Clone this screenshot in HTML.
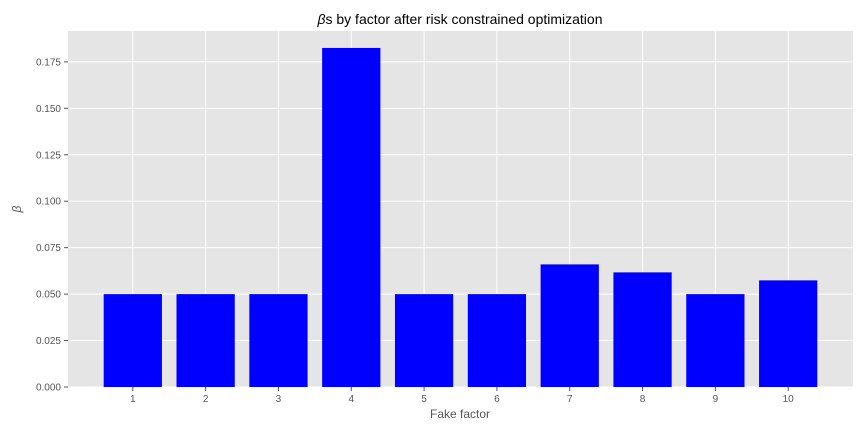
<!DOCTYPE html>
<html><head><meta charset="utf-8"><style>
body{margin:0;background:#fff;width:864px;height:432px;overflow:hidden;font-family:"Liberation Sans","DejaVu Sans",sans-serif;}
</style></head><body>
<svg id="chart" width="864" height="432" xmlns="http://www.w3.org/2000/svg">
<rect x="68" y="31" width="785" height="356" fill="#e5e5e5"/>
<g id="grid"></g><g id="bars"></g><g id="ticks"></g>
<text x="460" y="24" text-anchor="middle" font-size="14" fill="#000"><tspan font-style="italic">β</tspan>s by factor after risk constrained optimization</text>
<text x="460" y="418" text-anchor="middle" font-size="12" fill="#555">Fake factor</text>
<text x="21" y="209" text-anchor="middle" font-size="12" fill="#555" font-style="italic" transform="rotate(-90 21 209)">β</text>
</svg>
<script>
const categories=["1","2","3","4","5","6","7","8","9","10"];
const values=[0.050,0.050,0.050,0.1825,0.050,0.050,0.0660,0.0617,0.050,0.0574];
const yTicks=[0,0.025,0.05,0.075,0.1,0.125,0.15,0.175];
const yTickLabels=["0.000","0.025","0.050","0.075","0.100","0.125","0.150","0.175"];
const L=68,R=853,T=31,B=387;
const n=categories.length;
const xmin=1-0.4-0.05*(n-0.2), xmax=n+0.4+0.05*(n-0.2);
const ymax=Math.max(...values)*1.05;
const xs=v=>L+(v-xmin)/(xmax-xmin)*(R-L);
const ys=v=>B-v/ymax*(B-T);
const NS="http://www.w3.org/2000/svg";
const grid=document.getElementById('grid'),bars=document.getElementById('bars'),ticks=document.getElementById('ticks');
function mk(tag,attrs,parent){const e=document.createElementNS(NS,tag);for(const k in attrs)e.setAttribute(k,attrs[k]);parent.appendChild(e);return e;}
yTicks.forEach((t,i)=>{
 const y=ys(t);
 const g=mk('line',{x1:L,x2:R,y1:y,y2:y,stroke:'#fff','stroke-width':1},grid);
 
 
 const tk=mk('line',{x1:L-4,x2:L,y1:y,y2:y,stroke:'#555'},ticks);
 
 
 const tx=mk('text',{x:L-7,y:y+3.5,'text-anchor':'end','font-size':10,fill:'#555'},ticks);
 tx.textContent=yTickLabels[i];
 
 
});
categories.forEach((c,i)=>{
 const x=xs(i+1);
 const g=mk('line',{x1:x,x2:x,y1:T,y2:B,stroke:'#fff','stroke-width':1},grid);
 
 
 const w=xs(1.4)-xs(0.6);
 const b=mk('rect',{x:x-w/2,y:ys(values[i]),width:w,height:B-ys(values[i]),fill:'#0000ff'},bars);
 
 
 const tk=mk('line',{x1:x,x2:x,y1:B,y2:B+4,stroke:'#555'},ticks);
 
 
 const tx=mk('text',{x:x,y:B+15,'text-anchor':'middle','font-size':10,fill:'#555'},ticks);
 tx.textContent=c;
 
 
});
</script>
</body></html>
